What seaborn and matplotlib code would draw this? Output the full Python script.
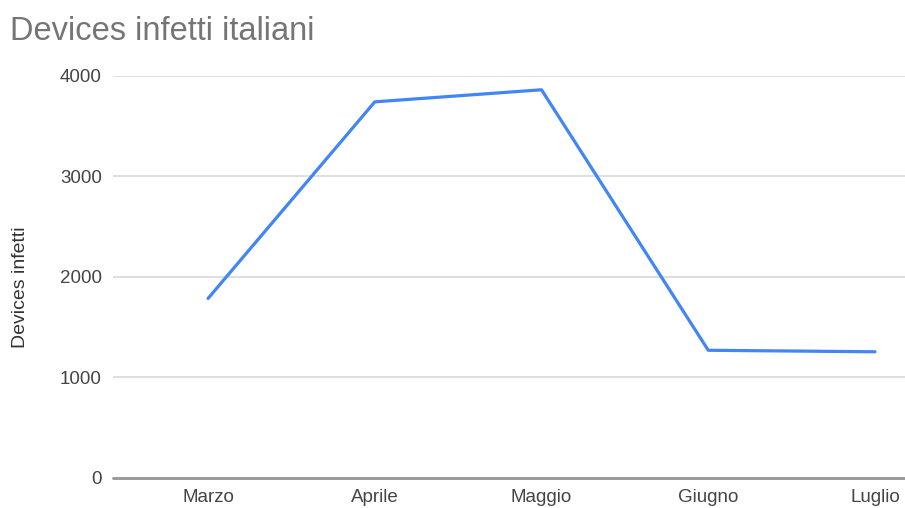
import matplotlib
matplotlib.use("Agg")
import matplotlib.pyplot as plt
import seaborn as sns
import pandas as pd

mesi = ["Marzo", "Aprile", "Maggio", "Giugno", "Luglio"]
devices = [1785, 3740, 3860, 1270, 1255]
y_ticks = [0, 1000, 2000, 3000, 4000]

sns.set_style("white")
plt.rcParams["font.family"] = ["Liberation Sans", "DejaVu Sans"]

df = pd.DataFrame({"Mese": mesi, "Devices infetti": devices})

fig = plt.figure(figsize=(9.05, 5.08), dpi=100)
ax = fig.add_axes([113 / 905, 1 - 478 / 508, 1 - 113 / 905, (478 - 75.7) / 508])

sns.lineplot(data=df, x="Mese", y="Devices infetti", sort=False, ax=ax,
             color="#4285F4", linewidth=2.3, zorder=3)

ax.set_ylim(0, 4000)
ax.set_xlim(-0.57, 4.18)
ax.set_yticks(y_ticks)
ax.set_yticklabels([str(t) for t in y_ticks])
ax.yaxis.grid(True, color="#dcdcdc", linewidth=1.3)
ax.xaxis.grid(False)
ax.axhline(0, color="#9a9a9a", linewidth=2.1, zorder=2, clip_on=False)
for s in ax.spines.values():
    s.set_visible(False)
ax.tick_params(axis="y", length=0, pad=8, labelsize=13.5, labelcolor="#444444")
ax.tick_params(axis="x", length=0, pad=8, labelsize=13.5, labelcolor="#444444")
ax.set_xlabel("")
ax.set_ylabel("Devices infetti", fontsize=14, color="#333333")
ax.yaxis.set_label_coords(-(113 - 29) / (905 - 113), (478 - 287) / (478 - 75.7))

fig.text(10 / 905, 1 - 32 / 508, "Devices infetti italiani", fontsize=23.5,
         color="#757575", ha="left", va="center")

fig.savefig("out.png", dpi=100)
